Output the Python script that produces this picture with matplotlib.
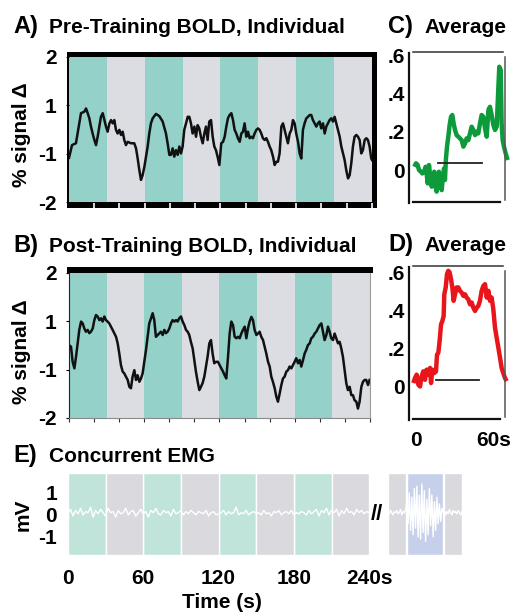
import numpy as np
import matplotlib
matplotlib.use('Agg')
import matplotlib.pyplot as plt
from matplotlib.patches import Rectangle

plt.rcParams['font.family'] = ['Liberation Sans', 'DejaVu Sans']
plt.rcParams['font.weight'] = 'bold'

W, H = 523, 613

C_TEAL = '#93d1c9'
C_GRAY = '#dcdde2'
C_TEAL_E = '#c0e4d9'
C_GRAY_E = '#d9d9de'
C_BLUE_E = '#c7d0ea'
C_GREEN = '#0c9a3a'
C_RED = '#e8161b'

# block design (s)
task_blocks = [(0, 30), (60, 90), (120, 150), (180, 210)]
rest_blocks = [(30, 60), (90, 120), (150, 180), (210, 240)]
post_rest = [(255, 269), (300, 314)]
post_task = [(270, 299)]

# pre-training individual BOLD, (time s, axis units)
pre_trace = [
    (0, -0.78), (2.4, -0.43), (5.5, -0.38), (8.2, 0.17), (9.5, 0.45), (12.1, 0.49),
    (13.5, 0.58), (14.8, 0.45), (16.1, 0.31), (17.4, 0.08), (18.7, -0.11), (20.1, -0.29),
    (21.4, -0.43), (22.7, -0.20), (24.0, 0.08), (25.3, 0.35), (26.7, 0.45), (28.0, 0.26),
    (29.3, 0.08), (30.6, -0.06), (32.0, 0.17), (33.3, 0.26), (34.6, 0.17), (35.9, 0.26),
    (37.2, -0.01), (38.5, -0.11), (39.9, -0.01), (41.2, -0.15), (42.5, -0.06), (43.8, -0.29),
    (45.1, -0.43), (46.5, -0.34), (49.1, -0.38), (51.7, -0.38), (53.1, -0.52), (54.4, -0.80),
    (55.7, -1.12), (57.0, -1.39), (58.3, -1.26), (59.7, -1.03), (61.0, -0.75), (62.3, -0.47),
    (63.6, -0.11), (64.9, 0.17), (66.3, 0.31), (68.9, 0.43), (71.5, 0.37), (74.2, 0.22),
    (76.8, -0.11), (78.1, -0.38), (79.5, -0.70), (80.8, -0.70), (82.1, -0.52), (83.4, -0.75),
    (84.7, -0.57), (86.1, -0.70), (87.4, -0.47), (88.7, -0.66), (90.0, -0.47), (91.3, -0.01),
    (92.7, 0.17), (94.0, 0.35), (95.3, 0.35), (96.6, 0.17), (97.9, -0.11), (99.3, 0.08),
    (100.6, -0.20), (101.9, 0.12), (103.2, 0.03), (104.5, -0.20), (105.9, -0.38), (107.2, -0.11),
    (108.5, 0.08), (109.8, -0.29), (111.1, 0.22), (112.5, 0.26), (113.8, -0.20), (115.1, -0.47),
    (116.4, -0.57), (117.7, -0.75), (119.1, -0.98), (120.6, -0.38), (122.0, -0.34), (123.3, -0.20),
    (124.6, 0.08), (125.9, 0.31), (127.2, 0.40), (128.6, 0.45), (129.9, 0.26), (131.2, -0.01),
    (132.5, -0.11), (133.8, -0.24), (135.2, -0.34), (136.5, -0.11), (137.8, -0.06), (139.1, 0.17),
    (140.4, -0.20), (141.8, -0.06), (143.1, -0.24), (144.4, -0.20), (145.7, -0.24), (147.0, -0.11),
    (148.4, -0.01), (149.7, 0.03), (151.0, -0.01), (152.3, -0.11), (153.6, -0.24), (155.0, -0.29),
    (156.3, -0.24), (157.6, -0.34), (158.9, -0.47), (160.2, -0.57), (161.6, -0.75), (162.9, -0.98),
    (164.2, -0.89), (165.5, -0.89), (166.8, -0.66), (168.2, 0.08), (169.5, 0.17), (170.8, -0.01),
    (172.1, -0.20), (173.4, -0.38), (174.8, -0.11), (176.1, -0.01), (177.4, 0.26), (178.7, 0.17),
    (180.0, -0.11), (181.4, -0.34), (182.7, -0.66), (184.0, -0.80), (185.3, -0.01), (186.6, 0.17),
    (188.0, 0.31), (189.3, 0.35), (190.6, 0.40), (191.9, 0.40), (193.2, 0.26), (194.6, 0.17),
    (195.9, 0.08), (197.2, 0.17), (198.5, 0.22), (199.8, 0.03), (201.2, 0.17), (202.5, -0.11),
    (203.8, 0.08), (205.1, 0.17), (206.4, 0.26), (207.8, 0.31), (209.1, 0.22), (210.4, 0.35),
    (211.7, 0.17), (213.0, -0.01), (214.4, -0.20), (215.7, -0.47), (217.0, -0.66), (218.3, -0.84),
    (219.6, -1.12), (221.0, -1.35), (222.3, -1.26), (223.6, -0.93), (224.9, -0.47), (226.2, -0.20),
    (227.6, -0.15), (228.9, -0.20), (230.2, -0.29), (231.5, -0.66), (232.8, -0.57), (234.2, -0.29),
    (235.5, -0.24), (236.8, -0.29), (238.1, -0.47), (239.4, -0.80), (240.0, -0.84),
]

# post-training individual BOLD
post_trace = [
    (0, 0.01), (1.6, -0.03), (2.9, -0.45), (4.3, -0.63), (5.6, -0.31), (6.9, 0.06),
    (8.2, 0.43), (9.6, 0.66), (10.9, 0.61), (12.2, 0.47), (13.5, 0.38), (14.9, 0.43),
    (16.2, 0.34), (17.5, 0.38), (18.9, 0.47), (20.2, 0.70), (21.5, 0.84), (22.8, 0.80),
    (24.2, 0.70), (25.5, 0.75), (26.8, 0.66), (28.2, 0.80), (29.5, 0.70), (30.8, 0.66),
    (32.1, 0.61), (33.5, 0.52), (34.8, 0.43), (36.1, 0.34), (37.5, 0.24), (38.8, 0.06),
    (40.1, -0.22), (41.4, -0.54), (42.8, -0.72), (44.1, -0.77), (45.4, -0.86), (46.8, -0.95),
    (48.1, -1.14), (49.4, -1.18), (50.7, -0.86), (52.1, -0.68), (53.4, -0.95), (54.7, -0.82),
    (56.1, -1.00), (57.4, -0.91), (58.7, -0.77), (60.0, -0.45), (61.4, -0.12), (62.7, 0.24),
    (64.0, 0.61), (65.4, 0.75), (66.7, 0.89), (68.0, 0.70), (69.3, 0.24), (70.7, 0.29),
    (72.0, 0.34), (73.3, 0.38), (74.7, 0.29), (76.0, 0.43), (77.3, 0.34), (78.6, 0.38),
    (80.0, 0.47), (81.3, 0.61), (82.6, 0.70), (84.0, 0.66), (85.3, 0.70), (86.6, 0.66),
    (87.9, 0.75), (89.3, 0.80), (90.6, 0.66), (91.9, 0.57), (93.3, 0.43), (94.6, 0.38),
    (95.9, 0.29), (97.2, 0.10), (98.6, -0.08), (99.9, -0.40), (101.2, -0.72), (102.6, -1.00),
    (103.9, -1.23), (105.2, -1.14), (106.5, -1.04), (107.9, -0.86), (109.2, -0.59), (110.5, -0.31),
    (111.9, 0.06), (113.2, 0.15), (114.5, -0.22), (115.8, -0.49), (117.2, -0.45), (118.8, -0.45),
    (120.1, -0.54), (121.5, -0.63), (122.8, -0.72), (124.1, -0.82), (125.4, -0.91), (126.8, -0.31),
    (128.1, 0.33), (129.4, 0.66), (130.8, 0.56), (132.1, 0.24), (133.4, 0.20), (134.7, 0.24),
    (136.1, 0.20), (137.4, 0.33), (138.7, 0.43), (140.1, 0.52), (141.4, 0.20), (142.7, 0.47),
    (144.0, 0.66), (145.4, 0.79), (146.7, 0.70), (148.0, 0.43), (149.4, 0.29), (150.7, 0.33),
    (152.0, 0.38), (153.3, 0.24), (154.7, 0.15), (156.0, -0.03), (157.3, -0.22), (158.7, -0.45),
    (160.0, -0.58), (161.3, -0.86), (162.6, -1.00), (164.0, -1.18), (165.3, -1.41), (166.6, -1.55),
    (168.0, -1.32), (169.3, -1.09), (170.6, -0.91), (171.9, -0.86), (173.3, -0.72), (174.6, -0.68),
    (175.9, -0.58), (177.3, -0.63), (178.6, -0.54), (179.9, -0.45), (181.2, -0.35), (182.6, -0.49),
    (183.9, -0.40), (185.2, -0.58), (186.6, -0.40), (187.9, -0.22), (189.2, -0.12), (190.5, 0.01),
    (191.9, 0.06), (193.2, 0.20), (194.5, 0.24), (195.9, 0.33), (197.2, 0.38), (198.5, 0.47),
    (199.8, 0.56), (201.2, 0.61), (202.5, 0.38), (203.8, 0.15), (205.2, 0.29), (206.5, 0.52),
    (207.8, 0.38), (209.1, 0.20), (210.5, 0.15), (211.8, 0.33), (213.1, 0.20), (214.5, 0.06),
    (215.8, 0.10), (217.1, -0.08), (218.4, -0.31), (219.8, -0.68), (221.1, -1.04), (222.4, -1.23),
    (223.8, -1.14), (225.1, -1.37), (226.4, -1.37), (227.7, -1.51), (229.1, -1.55), (230.4, -1.74),
    (231.7, -1.55), (233.1, -1.14), (234.4, -1.00), (235.7, -0.95), (237.0, -0.95), (238.4, -1.09),
    (239.7, -0.95),
]
bold_yticks = [2, 0.67, -0.67, -2]
bold_ylabels = ['2', '1', '-1', '-2']

# block averages (time s, % signal)
avg_pre = [
    (-0.9, 0.017), (0.4, 0.035), (1.7, 0.026), (2.7, 0.0), (4.2, -0.009), (5.3, -0.018),
    (6.5, -0.009), (7.8, 0.017), (8.6, -0.018), (9.4, -0.07), (10.4, 0.026), (11.4, -0.035),
    (12.5, -0.087), (13.7, -0.035), (14.5, -0.009), (15.5, -0.087), (16.3, -0.113), (17.1, -0.07),
    (18.1, -0.009), (19.1, -0.052), (20.2, -0.105), (20.9, -0.052), (22.0, 0.008), (22.7, -0.052),
    (23.5, 0.061), (24.3, 0.122), (25.3, 0.174), (26.3, 0.235), (27.4, 0.278), (28.4, 0.287),
    (29.4, 0.243), (30.5, 0.209), (31.7, 0.182), (33.0, 0.174), (34.3, 0.165), (35.6, 0.156),
    (36.9, 0.122), (38.2, 0.139), (39.4, 0.165), (40.7, 0.156), (42.0, 0.191), (43.3, 0.226),
    (44.6, 0.209), (45.9, 0.182), (47.2, 0.2), (48.4, 0.191), (49.7, 0.243), (51.0, 0.287),
    (52.3, 0.278), (53.6, 0.217), (54.9, 0.174), (56.2, 0.313), (57.4, 0.33), (58.7, 0.287),
    (60.0, 0.235), (61.3, 0.209), (62.6, 0.226), (63.9, 0.435), (64.6, 0.539), (65.7, 0.522),
    (66.4, 0.243), (67.2, 0.156), (68.2, 0.122), (69.5, 0.087), (71.1, 0.052),
]
avg_post = [
    (-1.7, 0.02), (-0.4, 0.046), (0.9, 0.064), (2.2, 0.011), (3.5, 0.002), (4.75, 0.055),
    (6.0, 0.081), (7.3, 0.037), (8.6, 0.09), (9.9, 0.064), (11.2, 0.099), (12.0, 0.02),
    (13.0, 0.09), (14.5, 0.072), (15.8, 0.081), (16.6, 0.169), (17.6, 0.178), (18.6, 0.239),
    (19.7, 0.327), (20.7, 0.344), (21.7, 0.37), (22.2, 0.484), (23.3, 0.52), (24.3, 0.59),
    (25.3, 0.607), (26.3, 0.599), (27.4, 0.563), (28.4, 0.52), (29.4, 0.45), (30.5, 0.484),
    (31.7, 0.52), (33.0, 0.52), (34.3, 0.502), (35.6, 0.493), (36.9, 0.476), (38.2, 0.484),
    (39.4, 0.467), (40.7, 0.458), (42.0, 0.432), (43.3, 0.441), (44.6, 0.414), (45.9, 0.397),
    (47.2, 0.414), (48.4, 0.423), (49.7, 0.45), (51.0, 0.502), (52.3, 0.528), (53.6, 0.537),
    (54.9, 0.467), (56.2, 0.502), (57.4, 0.45), (58.7, 0.467), (60.0, 0.406), (61.3, 0.309),
    (62.6, 0.256), (63.9, 0.204), (65.2, 0.151), (66.4, 0.099), (67.7, 0.072), (69.0, 0.046),
    (70.3, 0.03),
]
stim_bar_pre = (17.3, 51.2, 0.036)
stim_bar_post = (15.6, 49.0, 0.036)
avg_yticks = [0, 0.2, 0.4, 0.6]
avg_ylabels = ['0', '.2', '.4', '.6']

# concurrent EMG (mV), 0-240 s, and the separate segment after the break
emg_pre = [
    0.1, 0.25, -0.05, 0.2, 0.05, 0.3, 0.0, 0.15, 0.1, 0.35, -0.1, 0.2, 0.05, 0.25, 0.1,
    -0.05, 0.3, 0.1, 0.15, -0.1, 0.2, 0.05, 0.1, 0.3, 0.0, 0.15, 0.2, -0.05, 0.1, 0.25,
    0.05, 0.15, -0.1, 0.2, 0.1, 0.3, 0.05, 0.0, 0.2, 0.1, 0.15, -0.05, 0.25, 0.05, 0.1,
    0.2, 0.0, 0.15, 0.05, 0.2, 0.1, 0.0, 0.15, 0.1, 0.05, 0.2, -0.05, 0.1, 0.15, 0.0,
    0.05, 0.1, 0.2, 0.0, 0.15, 0.05, 0.1, 0.35, 0.0, 0.1, 0.05, 0.2, 0.0, 0.1, 0.15,
    0.05, 0.1, 0.0, 0.2, 0.05, 0.1, -0.05, 0.15, 0.1, 0.2, 0.0, 0.1, 0.15, 0.05, 0.2,
    0.0, 0.1, 0.05, 0.15, 0.1, 0.0, 0.2, 0.05, 0.15, 0.25, -0.05, 0.2, 0.1, 0.3, 0.0,
    0.2, 0.1, 0.25, -0.05, 0.2, 0.05, 0.3, 0.1, 0.15, 0.0, 0.25, 0.1, 0.2, 0.05, 0.15, 0.1,
]
emg_post = [
    0.1, 0.2, 0.0, 0.15, 0.05, 0.2, 0.1, 0.0, 0.15, 0.1, 0.2, 0.05, 0.1, 0.25, 0.0, 0.15, 0.1, 0.2,
    0.6, -0.4, 1.0, -0.7, 0.8, -0.9, 1.2, -0.6, 1.3, -1.0, 0.9, -1.1, 1.4, -0.8, 1.1, -1.2,
    0.7, -0.9, 1.2, -0.5, 0.9, -1.0, 0.6, -0.7, 0.8, -0.4, 0.5, -0.3, 0.3,
    0.1, 0.2, 0.0, 0.15, 0.05, 0.25, 0.1, 0.0, 0.2, 0.1, 0.15, 0.05, 0.2, 0.1, 0.0, 0.15,
]
emg_xticks = [0, 60, 120, 180, 240]
emg_xlabels = ['0', '60', '120', '180', '240s']


fig = plt.figure(figsize=(W / 100, H / 100), dpi=100)


def px_axes(x0, y0, x1, y1):
    return fig.add_axes([x0 / W, 1 - y1 / H, (x1 - x0) / W, (y1 - y0) / H])


def px_rect(x0, y0, x1, y1, color):
    fig.add_artist(Rectangle((x0 / W, 1 - y1 / H), (x1 - x0) / W, (y1 - y0) / H,
                             transform=fig.transFigure, facecolor=color,
                             edgecolor='none', zorder=-1))


def fig_text(x, y, s, **kw):
    fig.text(x / W, 1 - y / H, s, **kw)


def bold_panel(ax, trace):
    ax.set_facecolor(C_GRAY)
    for a, b in task_blocks:
        ax.axvspan(a, b, color=C_TEAL, lw=0)
    t, v = np.array(trace).T
    ax.plot(t, v, color='#111111', lw=1.8)
    ax.set_xlim(0, 240)
    ax.set_ylim(-2, 2)
    ax.set_yticks(bold_yticks)
    ax.set_yticklabels(bold_ylabels)
    ax.tick_params(axis='y', length=2, pad=7, labelsize=15)


# ── A: pre-training ──
px_rect(67, 52, 377, 208, 'black')
axA = px_axes(69, 57, 372, 202)
bold_panel(axA, pre_trace)
for s in axA.spines.values():
    s.set_visible(False)
axA.set_xticks([])
axA.vlines(np.arange(20, 241, 20), -6 / 145, -1 / 145, color='white', lw=1.2,
           transform=axA.get_xaxis_transform(), clip_on=False)

# ── B: post-training ──
px_rect(67, 267, 373, 273, 'black')
axB = px_axes(69, 273, 370, 418)
bold_panel(axB, post_trace)
axB.spines['top'].set_visible(False)
axB.spines['left'].set_color('#222222')
axB.spines['right'].set_color('#9a9a9a')
axB.spines['bottom'].set_color('#8a8a8a')
axB.set_xticks(np.arange(0, 241, 20))
axB.tick_params(axis='x', length=3, color='#333333', labelbottom=False)

fig_text(22, 135, '% signal Δ', rotation=90, ha='center', va='center', fontsize=15)
fig_text(22, 352, '% signal Δ', rotation=90, ha='center', va='center', fontsize=15)


# ── C / D: averages ──
def avg_panel(ax, trace, color, bar, ylim):
    t, v = np.array(trace).T
    ax.plot(t, v, color=color, lw=3.2, clip_on=False, solid_capstyle='butt')
    a, b, y = bar
    ax.plot([a, b], [y, y], color='#222222', lw=1.3)
    ax.set_xlim(-5, 69)
    ax.set_ylim(*ylim)
    for s in ax.spines.values():
        s.set_visible(False)
    tr = ax.transAxes
    ax.plot([0, 0], [-0.007, 0.993], color='#111111', lw=1.6, transform=tr, clip_on=False)
    ax.plot([0.042, 0.979], [1, 1], color='#333333', lw=1.1, transform=tr, clip_on=False)
    ax.plot([1, 1], [0.013, 0.967], color='#555555', lw=1.1, transform=tr, clip_on=False)
    ax.plot([0.042, 0.948], [0, 0], color='#111111', lw=1.6, transform=tr, clip_on=False)
    ax.set_yticks(avg_yticks)
    ax.set_yticklabels(avg_ylabels)
    ax.tick_params(axis='y', length=0, pad=3, labelsize=15)


axC = px_axes(409, 52, 505, 202)
avg_panel(axC, avg_pre, C_GREEN, stim_bar_pre, (-0.167, 0.616))
axC.set_xticks([])

axD = px_axes(409, 266, 505, 419)
avg_panel(axD, avg_post, C_RED, stim_bar_post, (-0.168, 0.632))
axD.set_xticks([0, 60])
axD.set_xticklabels(['0', '60s'])
axD.tick_params(axis='x', length=0, pad=9, labelsize=15)

# ── E: EMG ──
axE = px_axes(68, 473, 462, 555)
for a, b in task_blocks:
    axE.axvspan(a, b, color=C_TEAL_E, ec='white', lw=1)
for a, b in rest_blocks + post_rest:
    axE.axvspan(a, b, color=C_GRAY_E, ec='white', lw=1)
for a, b in post_task:
    axE.axvspan(a, b, color=C_BLUE_E, ec='white', lw=1)
axE.plot(np.linspace(0, 240, len(emg_pre)), emg_pre, color='white', lw=1.0)
axE.plot(np.linspace(252, 314, len(emg_post)), emg_post, color='white', lw=1.0)
axE.text(246, 0.0, '//', ha='center', va='center', fontsize=16, fontweight='bold')
axE.set_xlim(0, 314)
axE.set_ylim(-1.82, 1.9)
for s in axE.spines.values():
    s.set_visible(False)
axE.set_yticks([1, 0, -1])
axE.set_yticklabels(['1', '0', '-1'])
axE.tick_params(axis='y', length=0, pad=8, labelsize=15)
axE.set_xticks(emg_xticks)
axE.set_xticklabels(emg_xlabels)
axE.tick_params(axis='x', length=0, pad=10, labelsize=15)
fig_text(23, 515, 'mV', rotation=90, ha='center', va='center', fontsize=15)
fig_text(222, 603, 'Time (s)', ha='center', va='center', fontsize=15)

# ── panel titles ──
for x, y, tag, title in [(13, 33, 'A)', 'Pre-Training BOLD, Individual'),
                         (13, 252, 'B)', 'Post-Training BOLD, Individual'),
                         (388, 33, 'C)', 'Average'),
                         (388, 251, 'D)', 'Average'),
                         (13, 462, 'E)', 'Concurrent EMG')]:
    fig_text(x, y, tag, ha='left', va='baseline', fontsize=17)
    fig_text(x + 36, y, title, ha='left', va='baseline', fontsize=15)

fig.savefig('out.png', dpi=100)
